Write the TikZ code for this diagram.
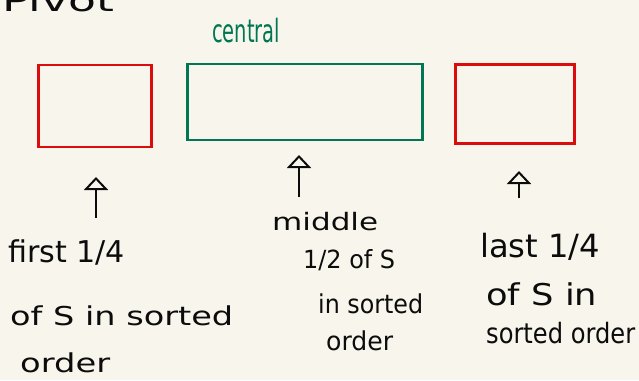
\documentclass[tikz,border=0pt]{standalone}
\usepackage{fontspec}
\setmainfont{DejaVu Sans}
\usetikzlibrary{arrows.meta}
\definecolor{paper}{RGB}{248,246,236}
\definecolor{pen}{RGB}{12,12,12}
\definecolor{redink}{RGB}{218,12,12}
\definecolor{greenink}{RGB}{0,118,84}
\newcommand\hwl[2]{\resizebox{#1}{\height}{#2}}
\begin{document}
\begin{tikzpicture}[x=1pt,y=-1pt,
  redbox/.style={draw=redink, line width=2.8pt, inner sep=0pt},
  greenbox/.style={draw=greenink, line width=2.8pt, inner sep=0pt},
  hw/.style={text=pen, inner sep=0pt, anchor=base west, font=\fontsize{#1}{#1}\selectfont},
  arr/.style={draw=pen, line width=2.2pt, -{Triangle[open, length=13pt, width=24pt, line width=2pt]}}]
\fill[paper] (0,0) rectangle (639,380);
\useasboundingbox (0,0) rectangle (639,380);
% partly visible heading at the top edge
\begin{scope}
\clip (0,0) rectangle (639,380);
\node[hw=30] (head) at (2,12) {\hwl{112pt}{Pivot}};
\end{scope}
% green title
\node[hw=32, text=greenink] (ct) at (212,42) {\hwl{68pt}{central}};
% boxes
\node[redbox, minimum width=113pt, minimum height=82pt] (b1) at (95,106) {};
\node[greenbox, minimum width=235pt, minimum height=76pt] (b2) at (305,102) {};
\node[redbox, minimum width=119pt, minimum height=79pt] (b3) at (515,104) {};
% arrows
\coordinate (a1s) at (96,218); \coordinate (a1e) at (96,177);
\coordinate (a2s) at (299,197); \coordinate (a2e) at (299,155);
\coordinate (a3s) at (519,198); \coordinate (a3e) at (519,171);
\draw[arr] (a1s) -- (a1e);
\draw[arr] (a2s) -- (a2e);
\draw[arr] (a3s) -- (a3e);
% left label
\node[hw=30] (l1a) at (8,262) {\hwl{117pt}{first 1/4}};
\node[hw=26] (l1b) at (10,325) {\hwl{223pt}{of S in sorted}};
\node[hw=26] (l1c) at (20,372) {\hwl{90pt}{order}};
% middle label
\node[hw=24] (l2a) at (272,230) {\hwl{106pt}{middle}};
\node[hw=25] (l2b) at (303,268) {\hwl{92pt}{1/2 of S}};
\node[hw=26] (l2c) at (318,313) {\hwl{105pt}{in sorted}};
\node[hw=26] (l2d) at (326,350) {\hwl{67pt}{order}};
% right label
\node[hw=32] (l3a) at (480,257) {\hwl{120pt}{last 1/4}};
\node[hw=30] (l3b) at (486,305) {\hwl{111pt}{of S in}};
\node[hw=28] (l3c) at (486,343) {\hwl{149pt}{sorted order}};
\end{tikzpicture}
\end{document}
